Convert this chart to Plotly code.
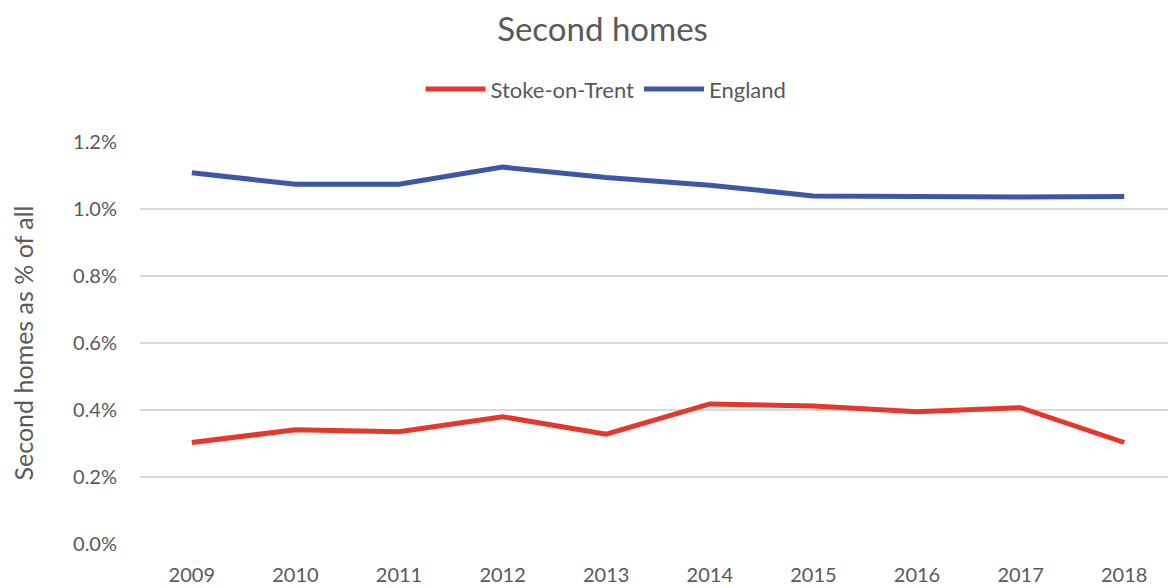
import plotly.graph_objects as go

years = ["2009", "2010", "2011", "2012", "2013", "2014", "2015", "2016", "2017", "2018"]
stoke = [0.303, 0.341, 0.335, 0.380, 0.328, 0.418, 0.412, 0.395, 0.407, 0.303]
england = [1.108, 1.074, 1.074, 1.125, 1.094, 1.071, 1.039, 1.036, 1.036, 1.037]
y_ticks = [0.0, 0.2, 0.4, 0.6, 0.8, 1.0, 1.2]
y_tick_text = [f"{v:.1f}%" for v in y_ticks]

FONT = "Lato, Carlito, 'Open Sans', sans-serif"
TXT = "#595959"

fig = go.Figure()
fig.add_trace(go.Scatter(x=years, y=stoke, name="Stoke-on-Trent", mode="lines",
                         line=dict(color="#E5372A", width=5)))
fig.add_trace(go.Scatter(x=years, y=england, name="England", mode="lines",
                         line=dict(color="#3D56A6", width=5)))

fig.update_layout(
    width=1168, height=580,
    paper_bgcolor="white", plot_bgcolor="white",
    margin=dict(l=132, r=0, t=134, b=44),
    font=dict(family=FONT, color=TXT, size=20),
    title=dict(text="Second homes", x=0.509, xanchor="center", y=0.963, yanchor="middle",
               font=dict(size=33, color=TXT, family=FONT)),
    legend=dict(orientation="h", x=0.512, xanchor="center", y=0.860, yanchor="middle",
                xref="container", yref="container",
                font=dict(size=22, color=TXT), itemwidth=60, tracegroupgap=0),
    showlegend=True,
)
fig.update_xaxes(type="category", range=[-0.5, 9.5], showgrid=False, showline=False,
                 zeroline=False, tickfont=dict(size=20, color=TXT), ticks="",
                 ticklabelstandoff=17)
fig.update_yaxes(range=[0, 1.2], tickmode="array", tickvals=y_ticks, ticktext=y_tick_text,
                 showgrid=True, gridcolor="#D9D9D9", gridwidth=1.5, zeroline=False,
                 showline=False, ticks="", ticklabelstandoff=22,
                 tickfont=dict(size=20, color=TXT),
                 title=dict(text="Second homes as % of all", standoff=42,
                            font=dict(size=25, color=TXT)))

fig.write_html("out.html")
